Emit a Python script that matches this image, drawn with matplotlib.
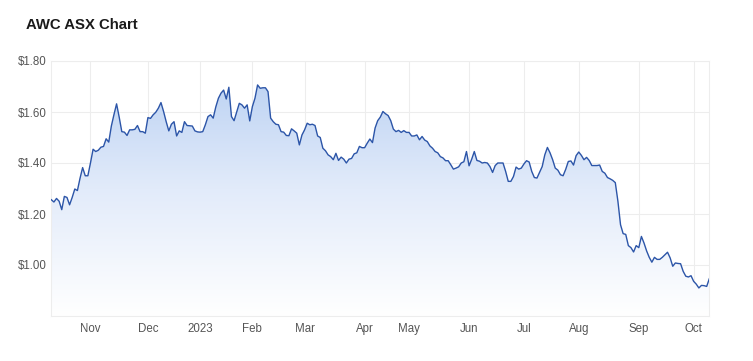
import numpy as np
import pandas as pd
import matplotlib
matplotlib.use("Agg")
import matplotlib.pyplot as plt
from matplotlib.colors import LinearSegmentedColormap
from matplotlib.patches import Polygon

# ---------------- data ----------------
title = "AWC ASX Chart"
start_date = "2022-10-11"
end_date = "2023-10-10"
asx_holidays = ["2022-12-26", "2022-12-27", "2023-01-02", "2023-01-26",
                "2023-04-07", "2023-04-10", "2023-04-25", "2023-06-12"]

close_prices = [
    1.256, 1.247, 1.261, 1.250, 1.217, 1.269, 1.265, 1.236, 1.265, 1.298,
    1.292, 1.340, 1.382, 1.350, 1.350, 1.400, 1.454, 1.445, 1.450, 1.462,
    1.465, 1.495, 1.482, 1.545, 1.590, 1.632, 1.580, 1.523, 1.521, 1.508,
    1.530, 1.530, 1.532, 1.547, 1.523, 1.523, 1.517, 1.578, 1.575, 1.589,
    1.599, 1.615, 1.637, 1.602, 1.562, 1.526, 1.552, 1.562, 1.506, 1.526,
    1.520, 1.562, 1.547, 1.546, 1.545, 1.526, 1.522, 1.521, 1.523, 1.550,
    1.582, 1.589, 1.576, 1.620, 1.654, 1.674, 1.686, 1.651, 1.697, 1.582,
    1.566, 1.600, 1.634, 1.628, 1.615, 1.628, 1.565, 1.621, 1.654, 1.706,
    1.693, 1.695, 1.695, 1.680, 1.576, 1.562, 1.552, 1.550, 1.523, 1.521,
    1.508, 1.507, 1.534, 1.526, 1.517, 1.471, 1.510, 1.530, 1.556, 1.550,
    1.552, 1.547, 1.506, 1.500, 1.458, 1.448, 1.432, 1.425, 1.413, 1.438,
    1.410, 1.423, 1.415, 1.400, 1.415, 1.418, 1.436, 1.440, 1.465, 1.460,
    1.460, 1.478, 1.494, 1.480, 1.537, 1.566, 1.580, 1.602, 1.593, 1.586,
    1.566, 1.533, 1.523, 1.528, 1.520, 1.527, 1.520, 1.520, 1.506, 1.506,
    1.510, 1.491, 1.504, 1.490, 1.484, 1.467, 1.458, 1.445, 1.440, 1.425,
    1.420, 1.409, 1.409, 1.393, 1.376, 1.380, 1.385, 1.400, 1.405, 1.445,
    1.389, 1.415, 1.445, 1.410, 1.407, 1.400, 1.402, 1.400, 1.386, 1.363,
    1.390, 1.400, 1.400, 1.400, 1.367, 1.328, 1.328, 1.347, 1.384, 1.376,
    1.380, 1.396, 1.409, 1.404, 1.367, 1.343, 1.341, 1.363, 1.386, 1.432,
    1.461, 1.440, 1.413, 1.380, 1.372, 1.354, 1.350, 1.375, 1.406, 1.408,
    1.392, 1.429, 1.443, 1.430, 1.413, 1.422, 1.410, 1.390, 1.390, 1.390,
    1.392, 1.367, 1.360, 1.343, 1.338, 1.332, 1.323, 1.250, 1.158, 1.123,
    1.120, 1.076, 1.068, 1.051, 1.076, 1.068, 1.112, 1.086, 1.055, 1.030,
    1.011, 1.030, 1.022, 1.022, 1.030, 1.040, 1.050, 1.028, 0.995, 1.008,
    1.006, 1.005, 0.975, 0.956, 0.953, 0.958, 0.936, 0.925, 0.910, 0.920,
    0.919, 0.916, 0.946,
]

month_labels = ["Nov", "Dec", "2023", "Feb", "Mar", "Apr", "May", "Jun",
                "Jul", "Aug", "Sep", "Oct"]
y_ticks = [1.00, 1.20, 1.40, 1.60, 1.80]
y_min, y_max = 0.80, 1.80

# ---------------- trading calendar (ordinal axis) ----------------
dates = pd.bdate_range(start_date, end_date, freq="C", holidays=asx_holidays)
n = min(len(dates), len(close_prices))
dates = dates[:n]
prices = np.array(close_prices[:n])
x = np.arange(n)

periods = dates.to_period("M")
month_starts = [i for i in range(1, n) if periods[i] != periods[i - 1]]
month_starts = month_starts[:len(month_labels)]

# ---------------- figure ----------------
plt.rcParams["font.family"] = ["Liberation Sans", "DejaVu Sans"]
fig = plt.figure(figsize=(7.53, 3.61), dpi=100)
ax = fig.add_axes([51.3 / 753, 45 / 361, (709.3 - 51.3) / 753, (316 - 61) / 361])

grid_c = "#ededed"
ax.set_xlim(0, n - 1)
ax.set_ylim(y_min, y_max)

# gradient fill under line
cmap = LinearSegmentedColormap.from_list("g", ["#ffffff", "#e2ebfa", "#b7cff2"])
grad = np.linspace(0, 1, 256).reshape(-1, 1)
img = ax.imshow(grad, extent=[0, n - 1, y_min, y_max], origin="lower",
                aspect="auto", cmap=cmap, zorder=1)
verts = np.column_stack([np.r_[x, x[-1], x[0]], np.r_[prices, y_min, y_min]])
clip = Polygon(verts, closed=True, transform=ax.transData, facecolor="none",
               edgecolor="none")
ax.add_patch(clip)
img.set_clip_path(clip)

ax.plot(x, prices, color="#2c55a8", lw=1.0, zorder=3, solid_joinstyle="round")

# grid
ax.set_yticks(y_ticks)
ax.set_yticklabels([f"${v:.2f}" for v in y_ticks])
ax.set_xticks(month_starts)
ax.set_xticklabels(month_labels)
ax.grid(True, color=grid_c, lw=0.8, zorder=0)
ax.set_axisbelow(True)
for s in ax.spines.values():
    s.set_color(grid_c)
    s.set_linewidth(0.8)
ax.tick_params(axis="both", length=0, labelsize=8.3)
ax.tick_params(axis="y", pad=3.5)
ax.tick_params(axis="x", pad=5)
for lab in ax.get_xticklabels() + ax.get_yticklabels():
    lab.set_color("#555555")

fig.text(26 / 753, 1 - 25 / 361, title, fontsize=10.7, fontweight="bold",
         color="#1a1a1a", va="center", ha="left")

fig.savefig("out.png", dpi=100)
